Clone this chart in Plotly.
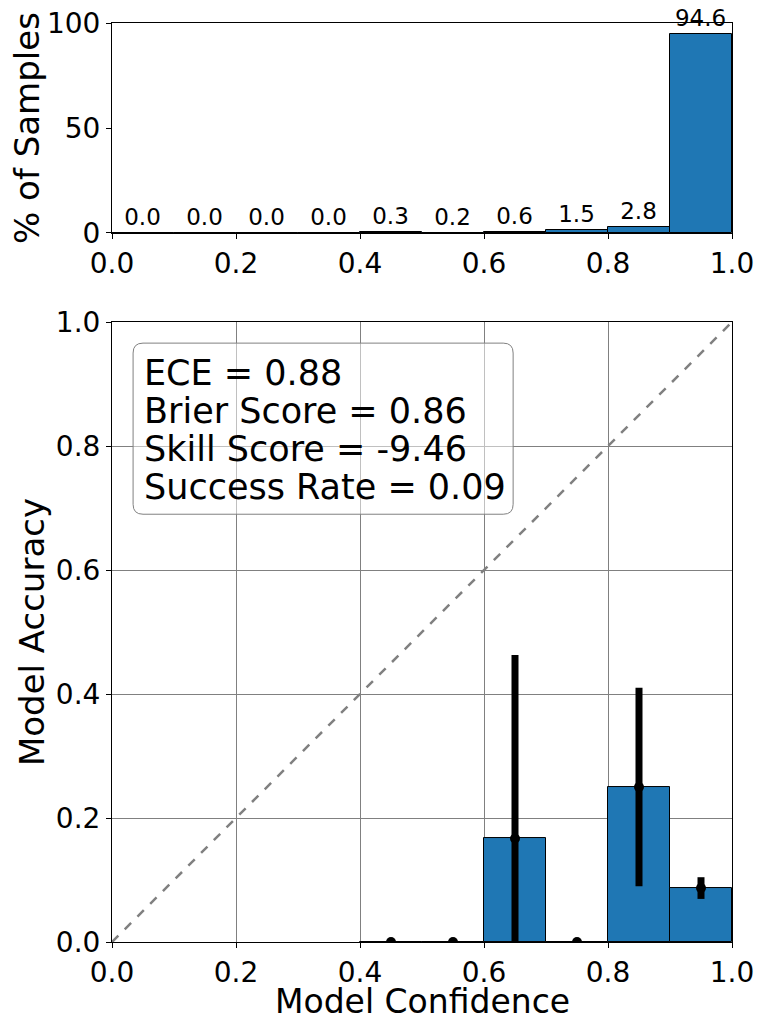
import plotly.graph_objects as go

# bin centres and data
bin_centers = [0.05, 0.15, 0.25, 0.35, 0.45, 0.55, 0.65, 0.75, 0.85, 0.95]
pct_samples = [0.0, 0.0, 0.0, 0.0, 0.3, 0.2, 0.6, 1.5, 2.8, 94.6]

acc_bins = [0.45, 0.55, 0.65, 0.75, 0.85, 0.95]
accuracy = [0.0, 0.0, 0.167, 0.0, 0.25, 0.087]
acc_err = [0.0, 0.0, 0.296, 0.0, 0.16, 0.0175]

diag = [0.0, 1.0]
ticks = [0.0, 0.2, 0.4, 0.6, 0.8, 1.0]
tick_text = ["0.0", "0.2", "0.4", "0.6", "0.8", "1.0"]

stats_lines = ["ECE = 0.88", "Brier Score = 0.86",
               "Skill Score = -9.46", "Success Rate = 0.09"]

blue = "#1f77b4"
font = "DejaVu Sans"

fig = go.Figure()

# top: share of samples per bin
fig.add_trace(go.Bar(x=bin_centers, y=pct_samples, width=0.1,
                     xaxis="x", yaxis="y",
                     marker=dict(color=blue, line=dict(color="black", width=1)),
                     text=[f"{v:.1f}" for v in pct_samples],
                     textposition="outside", cliponaxis=False,
                     textfont=dict(size=23, color="black", family=font),
                     showlegend=False))

# bottom: reliability diagram
fig.add_trace(go.Scatter(x=diag, y=diag, mode="lines", xaxis="x2", yaxis="y2",
                         line=dict(color="gray", width=2.5, dash="dash"),
                         showlegend=False))

fig.add_trace(go.Bar(x=acc_bins, y=accuracy, width=0.1, xaxis="x2", yaxis="y2",
                     marker=dict(color=blue, line=dict(color="black", width=1)),
                     showlegend=False))

fig.add_trace(go.Scatter(x=acc_bins, y=accuracy, mode="markers",
                         xaxis="x2", yaxis="y2",
                         marker=dict(color="black", size=10),
                         error_y=dict(type="data", array=acc_err, color="black",
                                      thickness=7, width=0),
                         showlegend=False))

tickfont = dict(size=28, color="black", family=font)
titlefont = dict(size=34, color="black", family=font)
axis_common = dict(showline=True, linecolor="black", linewidth=1, mirror=True,
                   ticks="outside", ticklen=5, tickcolor="black",
                   tickfont=tickfont, zeroline=False, automargin=False,
                   ticklabeloverflow="allow")

# stats box with rounded corners
bx0, bx1, by0, by1, r = 0.034, 0.647, 0.690, 0.966, 0.016
box_path = (f"M {bx0 + r},{by0} L {bx1 - r},{by0} Q {bx1},{by0} {bx1},{by0 + r} "
            f"L {bx1},{by1 - r} Q {bx1},{by1} {bx1 - r},{by1} "
            f"L {bx0 + r},{by1} Q {bx0},{by1} {bx0},{by1 - r} "
            f"L {bx0},{by0 + r} Q {bx0},{by0} {bx0 + r},{by0} Z")
fig.add_shape(type="path", path=box_path, xref="x2 domain", yref="y2 domain",
              line=dict(color="gray", width=1),
              fillcolor="rgba(255,255,255,0.5)", layer="above")

for i, line in enumerate(stats_lines):
    fig.add_annotation(xref="x2 domain", yref="y2 domain",
                       x=0.049, y=0.918 - i * 0.0616,
                       xanchor="left", yanchor="middle", showarrow=False,
                       text=line, font=dict(size=35, color="black", family=font))

# axis titles placed by hand
fig.add_annotation(xref="x2 domain", yref="y2 domain", x=0.5, y=0,
                   yshift=-59, xanchor="center", yanchor="middle",
                   showarrow=False, text="Model Confidence",
                   font=dict(size=33, color="black", family=font))
fig.add_annotation(xref="x domain", yref="y domain", x=0, y=0.5,
                   xshift=-85, xanchor="center", yanchor="middle",
                   textangle=-90, showarrow=False, text="% of Samples",
                   font=titlefont)

fig.update_layout(
    width=756, height=1020, plot_bgcolor="white", paper_bgcolor="white",
    bargap=0, margin=dict(l=104, r=32, t=15, b=86, autoexpand=False),
    font=dict(family=font, color="black"),
    xaxis=dict(domain=[0, 1], anchor="y", range=[0, 1], tickvals=ticks,
               ticktext=tick_text, showgrid=False, **axis_common),
    yaxis=dict(domain=[0.7715, 1], anchor="x", range=[0, 100],
               tickvals=[0, 50, 100], showgrid=False, **axis_common),
    xaxis2=dict(domain=[0, 1], anchor="y2", range=[0, 1], tickvals=ticks,
                ticktext=tick_text, showgrid=True, gridcolor="gray", gridwidth=1,
                **axis_common),
    yaxis2=dict(domain=[0, 0.6746], anchor="x2", range=[0, 1], tickvals=ticks,
                ticktext=tick_text, showgrid=True, gridcolor="gray", gridwidth=1,
                title=dict(text="Model Accuracy", standoff=0, font=titlefont),
                **axis_common),
)

fig.write_html("out.html")
